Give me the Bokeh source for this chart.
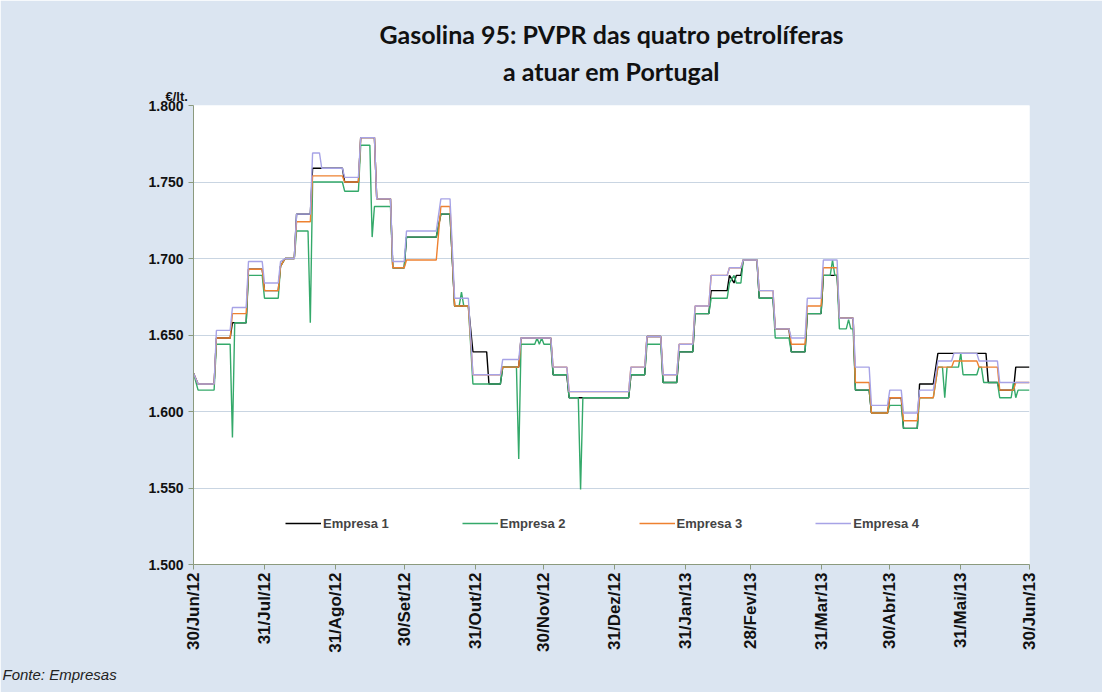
import math
from bokeh.plotting import figure
from bokeh.models import (Range1d, FixedTicker, NumeralTickFormatter, Title,
                          Legend, LegendItem, ColumnDataSource)
from bokeh.embed import file_html
from bokeh.resources import INLINE

# days since 30/Jun/2012
days = [0, 2, 9, 10, 16, 17, 18, 23, 24, 30, 31, 37, 38, 40, 44, 45, 50, 51, 52, 55,
        56, 65, 66, 72, 73, 77, 78, 79, 80, 86, 87, 92, 93, 106, 108, 112, 114, 116, 117, 118,
        120, 122, 128, 129, 134, 135, 141, 142, 143, 149, 150, 151, 152, 153, 156, 157, 163, 164, 168, 169,
        170, 190, 191, 197, 198, 204, 205, 211, 212, 218, 219, 225, 226, 233, 234, 236, 237, 239, 240, 246,
        247, 253, 254, 260, 261, 267, 268, 274, 275, 278, 279, 280, 281, 282, 285, 286, 287, 288, 289, 295,
        296, 303, 304, 309, 310, 316, 317, 323, 325, 327, 328, 329, 331, 332, 334, 335, 336, 342, 343, 344,
        345, 346, 347, 351, 352, 357, 358, 359, 360, 365]

empresa1 = [1.625, 1.618, 1.618, 1.648, 1.648, 1.658, 1.658, 1.658, 1.693, 1.693, 1.679, 1.679, 1.695, 1.700, 1.700, 1.729, 1.729, 1.729, 1.759, 1.759,
            1.759, 1.759, 1.750, 1.750, 1.779, 1.779, 1.779, 1.779, 1.739, 1.739, 1.694, 1.694, 1.714, 1.714, 1.729, 1.729, 1.669, 1.669, 1.669, 1.669,
            1.669, 1.639, 1.639, 1.618, 1.618, 1.629, 1.629, 1.629, 1.648, 1.648, 1.648, 1.648, 1.648, 1.648, 1.648, 1.624, 1.624, 1.609, 1.609, 1.609,
            1.609, 1.609, 1.624, 1.624, 1.649, 1.649, 1.619, 1.619, 1.639, 1.639, 1.664, 1.664, 1.679, 1.679, 1.689, 1.684, 1.689, 1.689, 1.699, 1.699,
            1.674, 1.674, 1.654, 1.654, 1.639, 1.639, 1.664, 1.664, 1.689, 1.689, 1.689, 1.689, 1.689, 1.661, 1.661, 1.661, 1.661, 1.661, 1.614, 1.614,
            1.599, 1.599, 1.609, 1.609, 1.589, 1.589, 1.618, 1.618, 1.638, 1.638, 1.638, 1.638, 1.638, 1.638, 1.638, 1.638, 1.638, 1.638, 1.638, 1.638,
            1.638, 1.638, 1.619, 1.619, 1.614, 1.614, 1.614, 1.629, 1.629, 1.629]

empresa2 = [1.625, 1.614, 1.614, 1.644, 1.644, 1.583, 1.658, 1.658, 1.689, 1.689, 1.674, 1.674, 1.695, 1.700, 1.700, 1.718, 1.718, 1.658, 1.750, 1.750,
            1.750, 1.750, 1.744, 1.744, 1.774, 1.774, 1.714, 1.734, 1.734, 1.734, 1.694, 1.694, 1.714, 1.714, 1.729, 1.729, 1.669, 1.669, 1.678, 1.669,
            1.669, 1.618, 1.618, 1.618, 1.618, 1.629, 1.629, 1.569, 1.644, 1.644, 1.648, 1.644, 1.648, 1.644, 1.644, 1.624, 1.624, 1.609, 1.609, 1.549,
            1.609, 1.609, 1.624, 1.624, 1.644, 1.644, 1.619, 1.619, 1.639, 1.639, 1.664, 1.664, 1.674, 1.674, 1.684, 1.689, 1.684, 1.684, 1.699, 1.699,
            1.674, 1.674, 1.648, 1.648, 1.639, 1.639, 1.664, 1.664, 1.689, 1.689, 1.699, 1.689, 1.689, 1.654, 1.654, 1.660, 1.654, 1.654, 1.614, 1.614,
            1.599, 1.599, 1.604, 1.604, 1.589, 1.589, 1.609, 1.609, 1.629, 1.629, 1.609, 1.629, 1.629, 1.629, 1.629, 1.638, 1.624, 1.624, 1.629, 1.629,
            1.619, 1.619, 1.619, 1.619, 1.609, 1.609, 1.619, 1.609, 1.614, 1.614]

empresa3 = [1.625, 1.618, 1.618, 1.648, 1.648, 1.664, 1.664, 1.664, 1.693, 1.693, 1.679, 1.679, 1.695, 1.700, 1.700, 1.724, 1.724, 1.724, 1.754, 1.754,
            1.754, 1.754, 1.750, 1.750, 1.779, 1.779, 1.779, 1.779, 1.739, 1.739, 1.694, 1.694, 1.699, 1.699, 1.734, 1.734, 1.669, 1.669, 1.669, 1.669,
            1.669, 1.624, 1.624, 1.624, 1.624, 1.629, 1.629, 1.629, 1.648, 1.648, 1.648, 1.648, 1.648, 1.648, 1.648, 1.629, 1.629, 1.613, 1.613, 1.613,
            1.613, 1.613, 1.629, 1.629, 1.649, 1.649, 1.624, 1.624, 1.644, 1.644, 1.669, 1.669, 1.689, 1.689, 1.694, 1.694, 1.694, 1.694, 1.699, 1.699,
            1.679, 1.679, 1.654, 1.654, 1.644, 1.644, 1.669, 1.669, 1.694, 1.694, 1.694, 1.694, 1.694, 1.661, 1.661, 1.661, 1.661, 1.661, 1.619, 1.619,
            1.599, 1.599, 1.609, 1.609, 1.594, 1.594, 1.609, 1.609, 1.629, 1.629, 1.629, 1.629, 1.629, 1.633, 1.633, 1.633, 1.633, 1.633, 1.629, 1.629,
            1.629, 1.629, 1.629, 1.629, 1.614, 1.614, 1.614, 1.619, 1.619, 1.619]

empresa4 = [1.625, 1.618, 1.618, 1.653, 1.653, 1.668, 1.668, 1.668, 1.698, 1.698, 1.684, 1.684, 1.698, 1.700, 1.700, 1.729, 1.729, 1.729, 1.769, 1.769,
            1.759, 1.759, 1.753, 1.753, 1.779, 1.779, 1.779, 1.779, 1.739, 1.739, 1.698, 1.698, 1.718, 1.718, 1.739, 1.739, 1.674, 1.674, 1.674, 1.674,
            1.674, 1.624, 1.624, 1.624, 1.624, 1.634, 1.634, 1.634, 1.648, 1.648, 1.648, 1.648, 1.648, 1.648, 1.648, 1.629, 1.629, 1.613, 1.613, 1.613,
            1.613, 1.613, 1.629, 1.629, 1.649, 1.649, 1.624, 1.624, 1.644, 1.644, 1.669, 1.669, 1.689, 1.689, 1.694, 1.694, 1.694, 1.694, 1.699, 1.699,
            1.679, 1.679, 1.654, 1.654, 1.648, 1.648, 1.674, 1.674, 1.699, 1.699, 1.699, 1.699, 1.699, 1.661, 1.661, 1.661, 1.661, 1.661, 1.629, 1.629,
            1.604, 1.604, 1.614, 1.614, 1.599, 1.599, 1.614, 1.614, 1.633, 1.633, 1.633, 1.633, 1.633, 1.638, 1.638, 1.638, 1.638, 1.638, 1.633, 1.633,
            1.633, 1.633, 1.633, 1.633, 1.619, 1.619, 1.619, 1.619, 1.619, 1.619]

series_names = ["Empresa 1", "Empresa 2", "Empresa 3", "Empresa 4"]
series_colors = ["#000000", "#34a96a", "#ee8130", "#a7a3e6"]

tick_days = [0, 31, 62, 92, 123, 153, 184, 215, 243, 274, 304, 335, 365]
tick_labels = ["30/Jun/12", "31/Jul/12", "31/Ago/12", "30/Set/12", "31/Out/12", "30/Nov/12",
               "31/Dez/12", "31/Jan/13", "28/Fev/13", "31/Mar/13", "30/Abr/13", "31/Mai/13", "30/Jun/13"]
y_ticks = [1.500, 1.550, 1.600, 1.650, 1.700, 1.750, 1.800]

title_line1 = "Gasolina 95: PVPR das quatro petrolíferas"
title_line2 = "a atuar em Portugal"
unit_text = "€/lt."
source_text = "Fonte: Empresas"

BG = "#dbe5f1"
AXIS = "#8b9a7e"
FONT = "Liberation Sans"

p = figure(width=1102, height=692, output_backend="svg", toolbar_location=None,
           x_range=Range1d(0, 365), y_range=Range1d(1.5, 1.8),
           min_border_left=193, min_border_right=73, min_border_top=105, min_border_bottom=128)
p.background_fill_color = "white"
p.border_fill_color = BG
p.outline_line_color = None

src = ColumnDataSource(dict(day=days, e1=empresa1, e2=empresa2, e3=empresa3, e4=empresa4))
renderers = []
for col, color in zip(["e1", "e2", "e3", "e4"], series_colors):
    r = p.line("day", col, source=src, line_color=color, line_width=1.4)
    renderers.append(r)

# axes
p.xaxis.ticker = FixedTicker(ticks=tick_days)
p.xaxis.major_label_overrides = {d: l for d, l in zip(tick_days, tick_labels)}
p.xaxis.major_label_orientation = math.pi / 2
p.xaxis.minor_tick_line_color = None
p.xaxis.major_tick_in = 0
p.xaxis.major_tick_out = 5
p.xaxis.axis_line_color = AXIS
p.xaxis.major_tick_line_color = AXIS
p.xaxis.major_label_text_font = FONT
p.xaxis.major_label_text_font_style = "bold"
p.xaxis.major_label_text_font_size = "17px"
p.xaxis.major_label_text_color = "#111111"
p.xaxis.major_label_standoff = 3

p.yaxis.ticker = FixedTicker(ticks=y_ticks)
p.yaxis.formatter = NumeralTickFormatter(format="0.000")
p.yaxis.minor_tick_line_color = None
p.yaxis.major_tick_in = 0
p.yaxis.major_tick_out = 5
p.yaxis.axis_line_color = AXIS
p.yaxis.major_tick_line_color = AXIS
p.yaxis.major_label_text_font = FONT
p.yaxis.major_label_text_font_style = "bold"
p.yaxis.major_label_text_font_size = "14px"
p.yaxis.major_label_text_color = "#111111"
p.yaxis.major_label_standoff = 5

p.xgrid.grid_line_color = None
p.ygrid.grid_line_color = "#c9d5e2"
p.ygrid.grid_line_width = 1.2

legend = Legend(items=[LegendItem(label=n, renderers=[r]) for n, r in zip(series_names, renderers)],
                orientation="horizontal", location=(92, 31), spacing=73, glyph_width=36,
                glyph_height=20, label_standoff=2, padding=0, margin=0,
                border_line_color=None, background_fill_alpha=0,
                label_text_font=FONT, label_text_font_style="bold", label_text_font_size="13px")
p.add_layout(legend)

t_unit = Title(text=unit_text, align="left", offset=-28, standoff=3,
               text_font=FONT, text_font_style="bold", text_font_size="13px", text_color="#111111")
t_line2 = Title(text=title_line2, align="center", offset=-4, standoff=0,
                text_font="Lato", text_font_style="bold", text_font_size="25px", text_color="#111111")
t_line1 = Title(text=title_line1, align="center", offset=-4, standoff=9,
                text_font="Lato", text_font_style="bold", text_font_size="25px", text_color="#111111")
p.add_layout(t_unit, "above")
p.add_layout(t_line2, "above")
p.add_layout(t_line1, "above")

t_src = Title(text=source_text, align="left", offset=-191, standoff=16,
              text_font=FONT, text_font_style="italic", text_font_size="15px", text_color="#222222")
p.add_layout(t_src, "below")

open("out.html", "w").write(file_html(p, INLINE))
